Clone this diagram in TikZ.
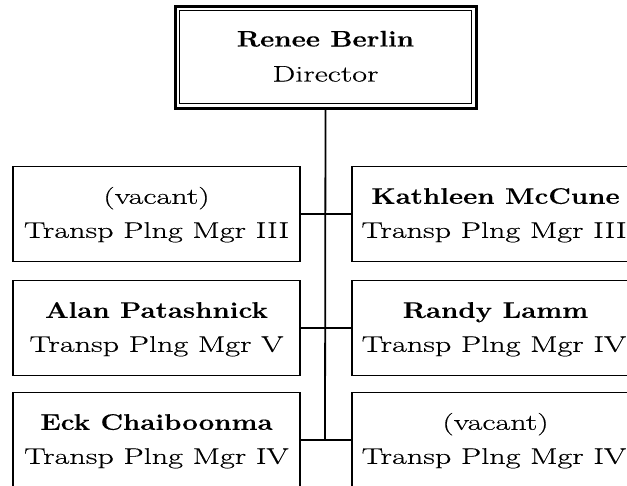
\documentclass[tikz,border=0pt]{standalone}
\usepackage{fontspec}
\setmainfont{Latin Modern Roman}[FakeStretch=1.43,FakeBold=0.4,BoldFeatures={FakeStretch=1.23,FakeBold=0.3}]
\newcommand{\twolines}[2]{\raisebox{-3pt}{\begin{tabular}{@{}c@{}}#1\\#2\end{tabular}}}
\begin{document}
\begin{tikzpicture}[x=1pt,y=-1pt,
  box/.style={draw,line width=1.8pt,minimum width=287pt,minimum height=95pt,
    align=center,inner sep=0pt,font=\fontsize{22.5}{34}\selectfont},
  topbox/.style={draw,line width=3pt,minimum width=301pt,minimum height=102pt,
    align=center,inner sep=0pt,font=\fontsize{22.5}{35}\selectfont},
  conn/.style={line width=1.8pt}]
\useasboundingbox (0,0) rectangle (627,485);
\clip (0,0) rectangle (627,485);
\node[topbox] (dir) at (325.5,57) {\twolines{\textbf{Renee Berlin}}{Director}};
\draw[line width=1.3pt] ([shift={(6,6)}]dir.north west) rectangle ([shift={(-6,-6)}]dir.south east);
\node[box] (l1) at (156.5,214) {\twolines{(vacant)}{Transp Plng Mgr III}};
\node[box] (r1) at (495.5,214) {\twolines{\textbf{Kathleen McCune}}{\hspace*{-3pt}Transp Plng Mgr III}};
\node[box] (l2) at (156.5,328) {\twolines{\textbf{Alan Patashnick}}{Transp Plng Mgr V}};
\node[box] (r2) at (495.5,328) {\twolines{\textbf{Randy Lamm}}{\hspace*{-3pt}Transp Plng Mgr IV}};
\node[box] (l3) at (156.5,440) {\twolines{\textbf{Eck Chaiboonma}}{Transp Plng Mgr IV}};
\node[box] (r3) at (495.5,440) {\twolines{(vacant)}{\hspace*{-3pt}Transp Plng Mgr IV}};
\coordinate (j3) at (325,440);
\draw[conn] (dir.south) -- (j3);
\draw[conn] (l1.east) -- (r1.west);
\draw[conn] (l2.east) -- (r2.west);
\draw[conn] (l3.east) -- (r3.west);
\end{tikzpicture}
\end{document}
